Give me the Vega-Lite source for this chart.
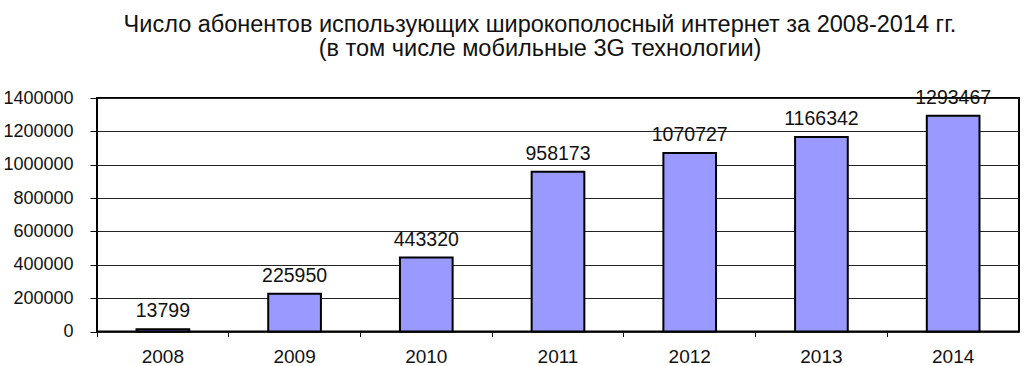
{
  "$schema": "https://vega.github.io/schema/vega-lite/v6.json",
  "width": 922,
  "height": 233.5,
  "autosize": {"type": "none"},
  "padding": {"left": 97, "top": 98, "right": 5, "bottom": 34.5},
  "background": "white",
  "config": {"view": {"stroke": "#000", "strokeWidth": 2}},
  "title": {
    "text": ["Число абонентов использующих широкополосный интернет за 2008-2014 гг.", "(в том числе мобильные 3G технологии)"],
    "font": "Liberation Sans",
    "fontSize": 23.5,
    "fontWeight": "normal",
    "color": "#111",
    "anchor": "middle",
    "dx": -18,
    "offset": 8,
    "lineHeight": 24.5,
    "baseline": "alphabetic"
  },
  "data": {
    "values": [
      {"year": "2008", "value": 13799},
      {"year": "2009", "value": 225950},
      {"year": "2010", "value": 443320},
      {"year": "2011", "value": 958173},
      {"year": "2012", "value": 1070727},
      {"year": "2013", "value": 1166342},
      {"year": "2014", "value": 1293467}
    ]
  },
  "encoding": {
    "x": {
      "field": "year",
      "type": "ordinal",
      "scale": {"paddingInner": 0, "paddingOuter": 0},
      "axis": {
        "title": null,
        "bandPosition": 0,
        "labelAngle": 0,
        "domain": false,
        "grid": false,
        "ticks": true,
        "tickSize": 5,
        "tickColor": "#000",
        "labelFont": "Liberation Sans",
        "labelFontSize": 19,
        "labelColor": "#111",
        "labelPadding": 11,
        "labelOverlap": false,
        "labelFlush": false
      }
    },
    "y": {
      "field": "value",
      "type": "quantitative",
      "scale": {"domain": [0, 1400000], "nice": false},
      "axis": {
        "title": null,
        "values": [0, 200000, 400000, 600000, 800000, 1000000, 1200000, 1400000],
        "format": "d",
        "domain": false,
        "grid": true,
        "gridColor": "#222",
        "gridWidth": 1,
        "ticks": true,
        "tickColor": "#000",
        "tickSize": 7,
        "labelPadding": 17,
        "labelFont": "Liberation Sans",
        "labelFontSize": 18,
        "labelColor": "#111",
        "labelOverlap": false
      }
    }
  },
  "layer": [
    {
      "mark": {"type": "bar", "width": {"band": 0.4}, "color": "#9999FF", "stroke": "#000", "strokeWidth": 2}
    },
    {
      "mark": {"type": "text", "dy": -12, "baseline": "alphabetic", "font": "Liberation Sans", "fontSize": 19.5, "color": "#111"},
      "encoding": {"text": {"field": "value", "type": "quantitative", "format": "d"}}
    }
  ]
}
